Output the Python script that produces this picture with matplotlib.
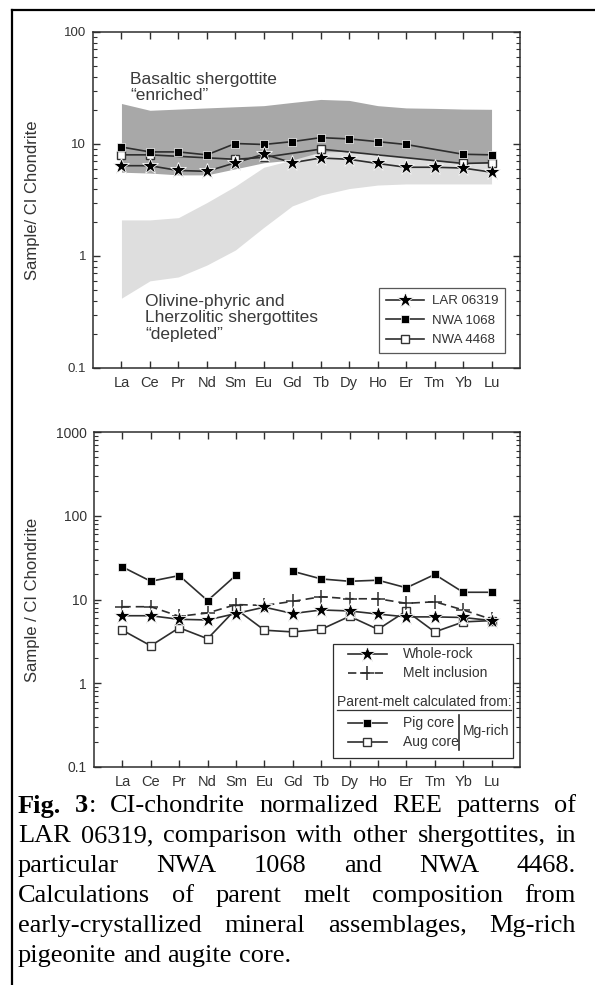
import numpy as np
import matplotlib
matplotlib.use('Agg')
import matplotlib.pyplot as plt
import matplotlib.ticker as mticker
from matplotlib.lines import Line2D
from matplotlib.patches import Rectangle

plt.rcParams['font.family'] = ['Liberation Sans', 'DejaVu Sans']

# --- data (CI-chondrite normalized) ---
ree = ['La', 'Ce', 'Pr', 'Nd', 'Sm', 'Eu', 'Gd', 'Tb', 'Dy', 'Ho', 'Er', 'Tm', 'Yb', 'Lu']
nan = np.nan

lar_06319 = [6.4, 6.4, 5.8, 5.7, 6.8, 8.1, 6.8, 7.5, 7.3, 6.7, 6.2, 6.2, 6.1, 5.6]
nwa_1068 = [9.4, 8.5, 8.5, 8.0, 10.1, 9.9, 10.5, 11.4, 11.1, 10.5, 9.9, nan, 8.1, 8.0]
nwa_4468 = [8.0, 8.0, nan, nan, 7.3, 7.6, nan, 9.0, nan, nan, nan, nan, 6.7, 6.8]

enriched_hi = [23, 20, 20.5, 21, 21.5, 22, 23.5, 25, 24.5, 22, 21, 20.8, 20.5, 20.4]
enriched_lo = [5.6, 5.5, 5.3, 5.3, 6.0, 6.8, 7.2, 7.5, 7.5, 7.2, 7.0, 6.8, 6.5, 6.5]
depleted_hi = [2.1, 2.1, 2.2, 3.0, 4.2, 6.2, 7.2, 8.5, 8.6, 8.2, 7.6, 7.1, 6.7, 6.7]
depleted_lo = [0.42, 0.6, 0.65, 0.83, 1.13, 1.8, 2.8, 3.5, 4.0, 4.3, 4.4, 4.4, 4.4, 4.4]

whole_rock = lar_06319
melt_inclusion = [8.2, 8.2, 6.3, 6.9, 8.7, 8.5, 9.5, 10.8, 10.2, 10.2, 9.0, 9.4, 7.5, 5.8]
pig_core = [24.5, 16.5, 19.3, 9.7, 19.5, nan, 21.7, 17.6, 16.5, 17.0, 13.8, 19.9, 12.2, 12.2]
aug_core = [4.3, 2.8, 4.6, 3.4, 7.7, 4.3, 4.1, 4.4, 6.3, 4.4, 7.3, 4.1, 5.4, 5.6]

caption = [
    [[('Fig.', 'bold')], [('3', 'bold'), (':', 'normal')], 'CI-chondrite', 'normalized', 'REE', 'patterns', 'of'],
    'LAR 06319, comparison with other shergottites, in',
    'particular NWA 1068 and NWA 4468.',
    'Calculations of parent melt composition from',
    'early-crystallized mineral assemblages, Mg-rich',
    'pigeonite and augite core.',
]

W, H = 595, 985
fig = plt.figure(figsize=(W / 100, H / 100), dpi=100)
dark = '#2e2e2e'
x = np.arange(len(ree))


def px_axes(left, top, right, bottom):
    return fig.add_axes([left / W, 1 - bottom / H, (right - left) / W, (bottom - top) / H])


def style_axes(ax, ylim, ylabel, xtick_size, ytick_size):
    ax.set_yscale('log')
    ax.set_ylim(*ylim)
    ax.set_xlim(-1, 14)
    ax.set_xticks(x)
    ax.set_xticklabels(ree)
    ax.yaxis.set_major_formatter(mticker.FuncFormatter(lambda v, p: f'{v:g}'))
    ax.yaxis.set_minor_formatter(mticker.NullFormatter())
    ax.tick_params(axis='both', which='both', direction='in', top=True, right=True,
                   color=dark, labelcolor='#333333')
    ax.tick_params(axis='both', which='major', length=5, width=1)
    ax.tick_params(axis='y', which='minor', length=3, width=0.8)
    ax.tick_params(axis='x', labelsize=xtick_size, pad=6)
    ax.tick_params(axis='y', labelsize=ytick_size, pad=5)
    for s in ax.spines.values():
        s.set_color(dark)
        s.set_linewidth(1.1)
    ax.set_ylabel(ylabel, fontsize=12, color='#333333')


def plot_series(ax, vals, connect=True, **kw):
    v = np.array(vals, dtype=float)
    if connect:
        m = ~np.isnan(v)
        return ax.plot(x[m], v[m], **kw)[0]
    return ax.plot(x, v, **kw)[0]


star = dict(marker='*', markersize=12, markerfacecolor='black', markeredgecolor='white',
            markeredgewidth=0.6, color=dark, lw=1.2)
fsq = dict(marker='s', markersize=6, markerfacecolor='black', markeredgecolor='white',
           markeredgewidth=0.5, color=dark, lw=1.2)
osq = dict(marker='s', markersize=6, markerfacecolor='white', markeredgecolor='#333333',
           markeredgewidth=1.0, color=dark, lw=1.2)
plus = dict(marker='+', markersize=10, markeredgewidth=1.1, color=dark, lw=1.2,
            linestyle=(0, (5, 3)))

# --- top panel ---
ax1 = px_axes(93, 32, 520, 368)
ax1.fill_between(x, enriched_lo, enriched_hi, color='#a8a8a8', lw=0, zorder=1)
ax1.fill_between(x, depleted_lo, depleted_hi, color='#dedede', lw=0, zorder=1.1)
h_lar = plot_series(ax1, lar_06319, zorder=5, **star)
h_1068 = plot_series(ax1, nwa_1068, zorder=4, **fsq)
h_4468 = plot_series(ax1, nwa_4468, zorder=3, **osq)
style_axes(ax1, (0.1, 100), 'Sample/ CI Chondrite', 10.5, 9.5)
ax1.yaxis.set_label_coords((40 - 93) / 427, 0.5)

ax1.text(0.087, 0.835, 'Basaltic shergottite\n\u201cenriched\u201d', transform=ax1.transAxes,
         fontsize=12.5, color='#3a3a3a', va='center', ha='left', linespacing=1.1)
ax1.text(0.122, 0.149, 'Olivine-phyric and\nLherzolitic shergottites\n\u201cdepleted\u201d',
         transform=ax1.transAxes, fontsize=12.5, color='#3a3a3a', va='center', ha='left',
         linespacing=1.12)

leg = ax1.legend([h_lar, h_1068, h_4468], ['LAR 06319', 'NWA 1068', 'NWA 4468'],
                 loc='lower right', bbox_to_anchor=(0.965, 0.045), borderaxespad=0,
                 fancybox=False, edgecolor=dark, fontsize=9.5, handlelength=2.9,
                 handletextpad=0.6, labelspacing=0.55, borderpad=0.5)
leg.get_frame().set_linewidth(0.9)
for t in leg.get_texts():
    t.set_color('#333333')

# --- bottom panel ---
ax2 = px_axes(94, 432, 520, 767)
plot_series(ax2, pig_core, connect=False, zorder=3, **fsq)
plot_series(ax2, aug_core, zorder=3, **osq)
plot_series(ax2, melt_inclusion, zorder=4, **plus)
plot_series(ax2, whole_rock, zorder=5, **star)
style_axes(ax2, (0.1, 1000), 'Sample / CI Chondrite', 10.5, 10)
ax2.yaxis.set_label_coords((40 - 94) / 426, 0.5)

# legend box drawn by hand (header row + Mg-rich bracket)
T = ax2.transAxes
ax2.add_patch(Rectangle((0.561, 0.027), 0.423, 0.340, transform=T, fill=True,
                        facecolor='white', edgecolor=dark, lw=0.9, zorder=6))
rows = [(0.337, star, 'Whole-rock'), (0.281, plus, 'Melt inclusion'),
        (0.131, fsq, 'Pig core'), (0.075, osq, 'Aug core')]
for yy, st, lab in rows:
    st2 = dict(st)
    st2.pop('marker')
    ms = st2.pop('markersize')
    mfc = st2.pop('markerfacecolor', None)
    mec = st2.pop('markeredgecolor', None)
    mew = st2.pop('markeredgewidth', 1)
    ax2.add_line(Line2D([0.596, 0.688], [yy, yy], transform=T, zorder=7, **st2))
    ax2.add_line(Line2D([0.642], [yy], transform=T, marker=st['marker'], markersize=ms,
                        markerfacecolor=mfc, markeredgecolor=mec if mec else dark,
                        markeredgewidth=mew, color=dark, linestyle='none', zorder=8))
    ax2.text(0.725, yy, lab, transform=T, fontsize=10, color='#333333', va='center',
             ha='left', zorder=8)
hdr = ax2.text(0.570, 0.194, 'Parent-melt calculated from:', transform=T, fontsize=10,
               color='#333333', va='center', ha='left', zorder=8)
ax2.add_line(Line2D([0.857, 0.857], [0.051, 0.155], transform=T, color=dark, lw=1.2, zorder=8))
ax2.text(0.866, 0.107, 'Mg-rich', transform=T, fontsize=10, color='#333333', va='center',
         ha='left', zorder=8)

# --- page frame ---
fig.add_artist(Line2D([12 / W, 1], [1 - 10 / H, 1 - 10 / H], transform=fig.transFigure,
                      color='black', lw=1.6))
fig.add_artist(Line2D([12 / W, 12 / W], [0, 1 - 10 / H], transform=fig.transFigure,
                      color='black', lw=1.6))

# --- measure text and finish ---
renderer = fig.canvas.get_renderer()
bb = hdr.get_window_extent(renderer)
inv = ax2.transAxes.inverted()
(x0, y0), (x1, _) = inv.transform([[bb.x0, bb.y0], [bb.x1, bb.y0]])
ax2.add_line(Line2D([x0, x1], [y0 - 0.004, y0 - 0.004], transform=T, color='#333333',
                    lw=0.9, zorder=8))

cap_size = 19
cap_left, cap_right = 18, 576
cap_y = [806, 836, 866, 896, 926, 956]


def word_parts(w):
    if isinstance(w, str):
        return [(w, 'normal')]
    return w


def seg_width(s, weight):
    t = fig.text(0, 0, s, fontsize=cap_size, family='Liberation Serif', weight=weight)
    w = t.get_window_extent(renderer).width
    t.remove()
    return w


space_w = seg_width('a b', 'normal') - seg_width('ab', 'normal')
for i, line in enumerate(caption):
    words = line.split(' ') if isinstance(line, str) else line
    parts = [word_parts(w) for w in words]
    widths = [sum(seg_width(s, wt) for s, wt in p) for p in parts]
    last = i == len(caption) - 1
    if last or len(parts) == 1:
        gap = space_w
    else:
        gap = (cap_right - cap_left - sum(widths)) / (len(parts) - 1)
    xp = cap_left
    for p, w in zip(parts, widths):
        xs = xp
        for s, wt in p:
            fig.text(xs / W, 1 - cap_y[i] / H, s, fontsize=cap_size, family='Liberation Serif',
                     weight=wt, va='center', ha='left', color='black')
            xs += seg_width(s, wt)
        xp += w + gap

fig.savefig('out.png', dpi=100)
